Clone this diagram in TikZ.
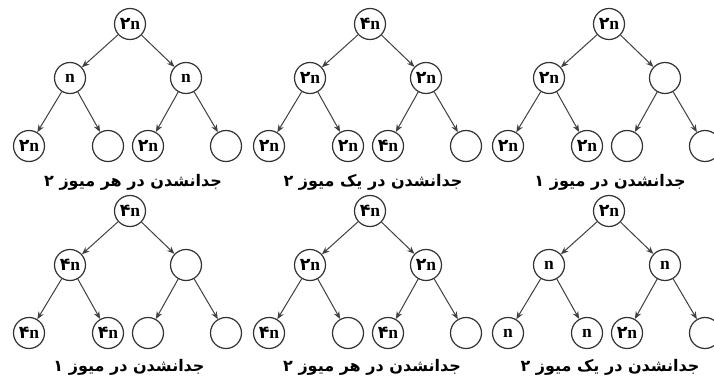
\documentclass[tikz,border=0pt]{standalone}
\usepackage{fontspec}
\setmainfont{Liberation Serif}
\newfontfamily\arabicfont[Script=Arabic]{DejaVu Sans}
\newfontfamily\digitfont{DejaVu Sans}
\TeXXeTstate=1
\usetikzlibrary{arrows.meta}
\newcommand\Nn{\textbf{n}}
\newcommand\Tn{{\digitfont\bfseries ۲}\textbf{n}}
\newcommand\Fn{{\digitfont\bfseries ۴}\textbf{n}}
\newcommand\mytree[9]{%
  \begin{scope}[shift={(#2)}]
    \node[nd] (#1r) at (130,0) {#3};
    \node[nd] (#1L) at (70,54) {#4};
    \node[nd] (#1R) at (186,54) {#5};
    \node[nd] (#1LL) at (29,122) {#6};
    \node[nd] (#1LR) at (108,122) {#7};
    \node[nd] (#1RL) at (148,122) {#8};
    \node[nd] (#1RR) at (226,122) {#9};
  \end{scope}
  \draw[ar] (#1r) -- (#1L);
  \draw[ar] (#1r) -- (#1R);
  \draw[ar] (#1L) -- (#1LL);
  \draw[ar] (#1L) -- (#1LR);
  \draw[ar] (#1R) -- (#1RL);
  \draw[ar] (#1R) -- (#1RR);
}
\begin{document}
\begin{tikzpicture}[x=1pt,y=-1pt,
  nd/.style={circle,draw=black!80,line width=1.2pt,minimum size=31pt,inner sep=0pt,
    font=\fontsize{17.5}{17.5}\selectfont},
  ar/.style={-{Stealth[length=7.5pt,width=6pt]},draw=black!75,line width=1pt},
  captxt/.style={font=\arabicfont\bfseries\fontsize{16}{16}\selectfont,inner sep=0pt}]
\fill[white] (0,0) rectangle (714,379);
\useasboundingbox (0,0) rectangle (714,379);
\mytree{a}{0,24}{\Tn}{\Nn}{\Nn}{\Tn}{}{\Tn}{}
\mytree{b}{240,24}{\Fn}{\Tn}{\Tn}{\Tn}{\Tn}{\Fn}{}
\mytree{c}{479,24}{\Tn}{\Tn}{}{\Tn}{\Tn}{}{}
\mytree{d}{0,211}{\Fn}{\Fn}{}{\Fn}{\Fn}{}{}
\mytree{e}{240,211}{\Fn}{\Tn}{\Tn}{\Fn}{}{\Fn}{}
\mytree{f}{479,211}{\Tn}{\Nn}{\Nn}{\Nn}{\Nn}{\Tn}{}
\node[captxt] (ac) at (133,182) {\beginR جدانشدن در هر میوز ۲\endR};
\node[captxt] (bc) at (373,182) {\beginR جدانشدن در یک میوز ۲\endR};
\node[captxt] (cc) at (610,182) {\beginR جدانشدن در میوز ۱\endR};
\node[captxt] (dc) at (129,367) {\beginR جدانشدن در میوز ۱\endR};
\node[captxt] (ec) at (372,367) {\beginR جدانشدن در هر میوز ۲\endR};
\node[captxt] (fc) at (610,367) {\beginR جدانشدن در یک میوز ۲\endR};
\end{tikzpicture}
\end{document}
